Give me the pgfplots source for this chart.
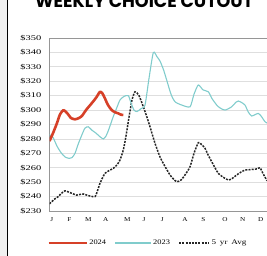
\documentclass[border=0pt]{standalone}
\usepackage{pgfplots}
\pgfplotsset{compat=1.18}
\usepackage{fontspec}
\setmainfont{Liberation Serif}
\newfontfamily\titlefont{Poppins}
\definecolor{red24}{RGB}{214,64,40}
\definecolor{teal23}{RGB}{128,204,204}
\definecolor{gridc}{RGB}{222,222,222}
\definecolor{axc}{RGB}{150,150,150}
\newcommand{\W}[2][1.45]{\scalebox{#1}[1]{#2}}
\pgfplotsset{leg/.style={legend image code/.code={\draw[##1] (0pt,0pt) -- (#1,0pt);}}}
\begin{document}
\begin{tikzpicture}[x=1pt,y=1pt]
\useasboundingbox (0,0) rectangle (267,256);
\clip (0,0) rectangle (267,256);
\fill[gray!12] (0,0) rectangle (7.5,256);
\draw[black, line width=1.3pt] (7.5,0) -- (7.5,256);
\node[anchor=base west, inner sep=0pt] at (35,248) {\resizebox{218pt}{!}{\titlefont\bfseries WEEKLY CHOICE CUTOUT}};
\begin{axis}[
  at={(49.5pt,45pt)}, anchor=south west, scale only axis,
  width=225.5pt, height=173pt,
  xmin=49.5, xmax=275, ymin=230, ymax=350,
  axis line style={draw=axc, line width=0.8pt},
  ymajorgrids, grid style={draw=gridc, line width=0.7pt},
  major tick length=0pt,
  ytick={230,240,250,260,270,280,290,300,310,320,330,340,350},
  yticklabels={\W{\$230},\W{\$240},\W{\$250},\W{\$260},\W{\$270},\W{\$280},\W{\$290},\W{\$300},\W{\$310},\W{\$320},\W{\$330},\W{\$340},\W{\$350}},
  yticklabel style={anchor=east, inner sep=0pt, xshift=-8pt, font=\fontsize{7.2}{8}\selectfont},
  xtick={51.7,69.3,88.3,105.7,127.3,144,162.3,185,203.3,225,242.7,260.7},
  xticklabels={\W[1.2]{J},\W[1.2]{F},\W[1.2]{M},\W[1.2]{A},\W[1.2]{M},\W[1.2]{J},\W[1.2]{J},\W[1.2]{A},\W[1.2]{S},\W[1.2]{O},\W[1.2]{N},\W[1.2]{D}},
  xticklabel style={anchor=center, inner sep=0pt, yshift=-9pt, font=\fontsize{6}{7}\selectfont},
  reverse legend,
  legend columns=3,
  legend style={at={(axis description cs:-0.011,-0.185)}, anchor=west, draw=none, fill=none, inner sep=0pt,
    nodes={inner sep=1.5pt}, font=\fontsize{7}{8}\selectfont,
    /tikz/every even column/.append style={column sep=7pt}},
]
\addplot[black!85, line width=1.5pt, dash pattern=on 2pt off 1.2pt, smooth, tension=0.4, leg=30pt] coordinates {
(49.5,235)(51.7,236.4)(55,238.5)(58.3,240)(61,242)(65,244)(68,243.3)(71.7,242.3)(76.7,241)(80,241.5)(83.3,241.8)(87,241)(90,240.4)(95,240)(97.5,244)(100,249.2)(102.5,253)(105,256.1)(109,258)(113.3,259.6)(117,262)(120,265.4)(123.3,272.3)(126,282)(129,295)(132,307)(135,312.7)(139,310)(143.3,302.3)(147,295)(150,288.4)(155,277)(160,267.5)(163.3,263)(167,258.5)(170,255)(173,252.5)(176.7,250.3)(181,251.5)(185,255)(190,260.7)(194,270)(198.3,277.4)(201,276.5)(205,273.5)(208,269)(211.7,264.2)(215,260)(218.3,256.1)(223,253.5)(228.3,251.5)(232,252.5)(236.7,255)(241,257)(245,258.4)(249,258.6)(253.3,258.9)(257,259.2)(260,260)(263,256)(266.7,251.5)(270,249)
};
\addlegendentry{\W[1.3]{5\hspace{3pt}yr\hspace{3pt}Avg}}
\addplot[teal23, line width=1.1pt, smooth, tension=0.4, leg=36pt] coordinates {
(49.5,283)(53,281)(57,275)(61,270.5)(65,267.5)(69,266.5)(72,267)(75,270)(78,276)(82,283)(85,287.5)(88.3,288.4)(92,286)(96,284)(100,281.5)(103.3,280)(106,282)(109,287)(113,295)(117,302)(120,307)(124,309.5)(128.3,310)(131,305)(134,300)(137,299)(141,301)(145,303.5)(149,322)(153.3,339.8)(157,337)(160,334)(163.5,328)(166.7,320.8)(171,311)(175,305.8)(181.7,303.5)(190,302.3)(194,311)(198.3,317.4)(203,314)(208.3,312.7)(212,308)(216.7,303.5)(220,301.5)(225,300)(231.7,302.3)(236,305.5)(238.3,306.3)(241,305.5)(245,303.5)(248,299)(251.7,295.9)(258.3,297.7)(262,295)(265,291.9)(270,290)
};
\addlegendentry{\W[1.2]{2023}}
\addplot[red24, line width=2.6pt, line join=round, smooth, tension=0.4, leg=38pt] coordinates {
(49.5,278.5)(53,284)(57,291)(60,297)(63.5,300)(67,298)(71,294.5)(75,293.6)(79,294.5)(82,296)(86,300)(89,302.5)(93,305.8)(96.5,309)(100,312.7)(102.5,311.5)(105,308)(108,303.5)(111.7,300)(115,298.5)(118.3,297.7)(121,296.8)(123.3,296.6)
};
\addlegendentry{\W[1.2]{2024}}
\end{axis}
\end{tikzpicture}
\end{document}
